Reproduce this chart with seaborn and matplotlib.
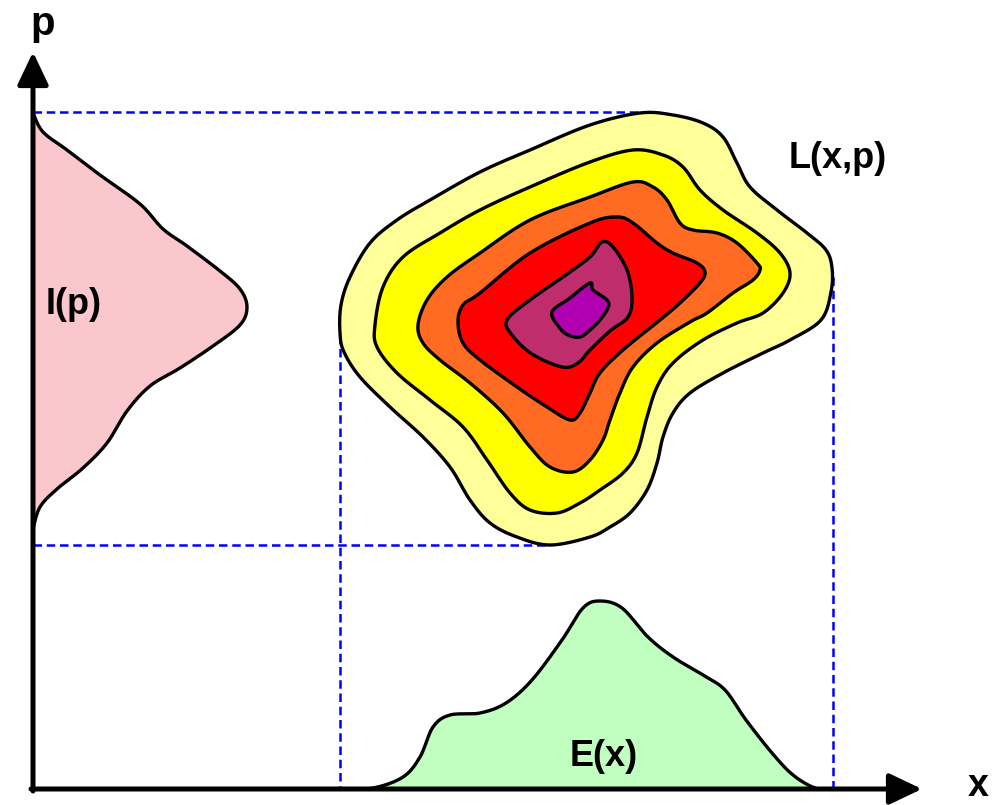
import numpy as np
import matplotlib
matplotlib.use("Agg")
import matplotlib.pyplot as plt
import seaborn as sns

# Traced outlines, in picture pixels (x to the right, y downwards)
# Contour levels of L(x,p), from the outermost to the innermost
level1_x = [340, 341, 350, 370, 397, 430, 480, 530, 590, 640, 673, 703, 723, 737, 750, 777, 807, 826, 832, 831, 821, 790, 763, 723, 690, 673, 663, 657, 647, 630, 610, 590, 550, 517, 490, 470, 450, 423, 390, 360, 344]
level1_y = [333, 305, 277, 243, 220, 200, 172, 150, 125, 113, 115, 123, 137, 163, 187, 210, 233, 250, 268, 292, 320, 340, 353, 373, 393, 413, 437, 463, 490, 513, 527, 537, 545, 537, 523, 500, 467, 437, 407, 377, 352]

level2_x = [375, 383, 403, 440, 480, 530, 590, 633, 663, 683, 700, 723, 757, 780, 790, 783, 763, 737, 703, 673, 657, 647, 637, 623, 600, 580, 557, 530, 510, 487, 463, 430, 397, 377]
level2_y = [325, 287, 257, 233, 210, 187, 162, 150, 155, 167, 190, 210, 233, 253, 273, 293, 313, 323, 340, 363, 387, 417, 453, 473, 490, 503, 513, 510, 493, 460, 427, 400, 373, 347]

level3_x = [418, 427, 447, 480, 530, 590, 633, 653, 667, 680, 693, 717, 737, 757, 760, 753, 733, 707, 690, 657, 633, 620, 610, 603, 590, 573, 550, 530, 503, 470, 440, 423]
level3_y = [325, 300, 277, 253, 220, 197, 182, 187, 200, 223, 230, 233, 243, 263, 270, 280, 293, 313, 322, 343, 367, 393, 420, 440, 460, 472, 467, 447, 413, 383, 360, 343]

level4_x = [458, 463, 480, 530, 590, 617, 633, 657, 673, 697, 705, 700, 680, 660, 623, 600, 590, 580, 570, 547, 517, 480, 463]
level4_y = [322, 305, 293, 253, 223, 217, 223, 243, 253, 263, 272, 283, 303, 320, 350, 373, 393, 413, 420, 407, 387, 360, 343]

level5_x = [507, 530, 563, 590, 602, 613, 627, 632, 628, 610, 590, 578, 562, 532, 512]
level5_y = [320, 300, 277, 257, 242, 247, 270, 297, 317, 331, 350, 363, 367, 354, 335]

level6_x = [552, 570, 590, 593, 607, 608, 600, 590, 580, 568, 559]
level6_y = [312, 298, 283, 290, 300, 308, 320, 330, 337, 335, 327]

level_colors = ["#FFFF99", "#FFFF00", "#FF6B22", "#FF0000", "#BF2D6D", "#B000B0"]

# Marginal E(x) along the x axis
energy_x = [340, 373, 403, 420, 433, 450, 480, 506, 532, 562, 583, 600, 622, 648, 673, 703, 725, 746, 772, 793, 815, 832]
energy_y = [789, 788, 777, 757, 727, 715, 713, 703, 680, 640, 608, 601, 608, 637, 657, 675, 690, 720, 753, 775, 788, 789]

# Marginal I(p) along the p axis
momentum_p = [113, 132, 150, 175, 204, 229, 246, 271, 289, 307, 325, 346, 368, 386, 411, 443, 468, 489, 507, 529]
momentum_i = [33, 43, 67, 100, 140, 163, 187, 220, 240, 247, 240, 213, 180, 150, 127, 107, 83, 57, 40, 33]

AXIS_X0, AXIS_Y0 = 33, 789


def smooth(xs, ys, closed=True, n=12):
    """Catmull-Rom curve through the traced points, so outlines are not angular."""
    pts = np.column_stack([xs, ys]).astype(float)
    if closed:
        ext = np.vstack([pts[-1], pts, pts[0], pts[1]])
    else:
        ext = np.vstack([pts[0], pts, pts[-1]])
    out = []
    t = np.linspace(0, 1, n, endpoint=False)[:, None]
    for i in range(1, len(ext) - 2):
        p0, p1, p2, p3 = ext[i - 1], ext[i], ext[i + 1], ext[i + 2]
        seg = 0.5 * ((2 * p1) + (-p0 + p2) * t + (2 * p0 - 5 * p1 + 4 * p2 - p3) * t ** 2
                     + (-p0 + 3 * p1 - 3 * p2 + p3) * t ** 3)
        out.append(seg)
    if not closed:
        out.append(pts[-1][None, :])
    out = np.vstack(out)
    return out[:, 0], out[:, 1]


sns.set_style("white")
plt.rcParams['font.family'] = ['Liberation Sans', 'DejaVu Sans']
plt.rcParams['text.color'] = 'black'

fig = plt.figure(figsize=(10.01, 8.05), dpi=100)
ax = fig.add_axes([0, 0, 1, 1])
ax.set_xlim(0, 1001)
ax.set_ylim(805, 0)
ax.axis("off")

levels = [(level1_x, level1_y), (level2_x, level2_y), (level3_x, level3_y),
          (level4_x, level4_y), (level5_x, level5_y), (level6_x, level6_y)]
curves = [smooth(lx, ly) for lx, ly in levels]

# dashed guide lines at the extremes of the outer level
ox, oy = curves[0]
top, bottom = int(np.argmin(oy)), int(np.argmax(oy))
left, right = int(np.argmin(ox)), int(np.argmax(ox))
guide = dict(color="#0000FF", lw=1.8, dashes=(3.4, 1.9), zorder=1)
ax.plot([AXIS_X0, ox[top]], [oy[top], oy[top]], **guide)
ax.plot([AXIS_X0, ox[bottom]], [oy[bottom], oy[bottom]], **guide)
ax.plot([ox[left], ox[left]], [oy[left], AXIS_Y0], **guide)
ax.plot([ox[right], ox[right]], [oy[right], AXIS_Y0], **guide)

# nested contour levels
for k, ((sx, sy), col) in enumerate(zip(curves, level_colors)):
    ax.fill(sx, sy, facecolor=col, edgecolor="black", lw=2.4, joinstyle="round", zorder=2 + k)

# E(x) marginal
ex, ey = smooth(energy_x, energy_y, closed=False)
ax.fill_between(ex, ey, AXIS_Y0, color="#C0FFC0", lw=0, zorder=2)
sns.lineplot(x=ex, y=ey, sort=False, estimator=None, color="black", lw=2.4, ax=ax, zorder=3)

# I(p) marginal
ip_x, ip_y = smooth(momentum_i, momentum_p, closed=False)
ax.fill_betweenx(ip_y, AXIS_X0, ip_x, color="#F9C7CC", lw=0, zorder=2)
sns.lineplot(x=ip_x, y=ip_y, sort=False, estimator=None, color="black", lw=2.4, ax=ax, zorder=3)

# axes with arrow heads
arrow = dict(arrowstyle="-|>,head_length=2.0,head_width=0.95", lw=3.6, color="black",
             shrinkA=0, shrinkB=0)
ax.annotate("", xy=(922, AXIS_Y0), xytext=(AXIS_X0 - 2, AXIS_Y0), arrowprops=arrow, zorder=10)
ax.annotate("", xy=(AXIS_X0, 52), xytext=(AXIS_X0, AXIS_Y0 + 2), arrowprops=arrow, zorder=10)

label = dict(fontsize=26, fontweight="bold", ha="center", va="center", color="black", zorder=11)
ax.text(43, 24, "p", fontsize=29, fontweight="bold", ha="center", va="center", color="black")
ax.text(978, 804, "x", fontsize=27, fontweight="bold", ha="center", va="bottom", color="black")
ax.text(838, 158, "L(x,p)", **label)
ax.text(74, 304, "I(p)", **label)
ax.text(604, 756, "E(x)", **label)

fig.savefig("out.png", dpi=100)
